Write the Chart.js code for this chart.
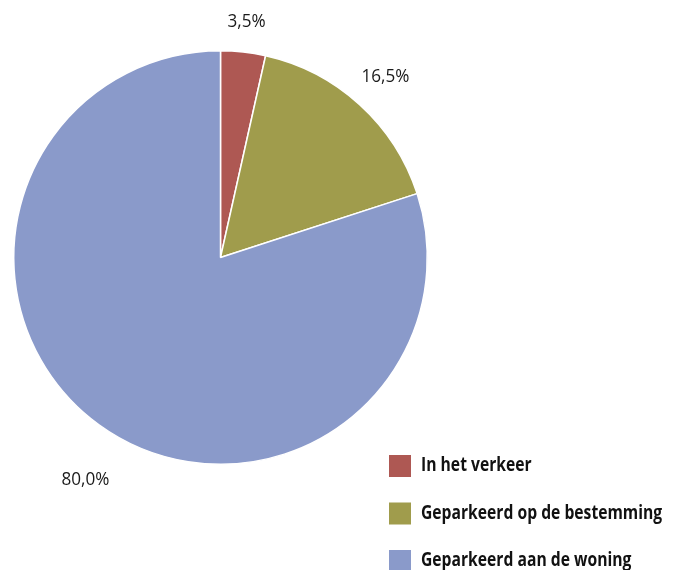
<!DOCTYPE html>
<html>
<head>
<meta charset="utf-8">
<script src="https://cdn.jsdelivr.net/npm/chart.js@4/dist/chart.umd.min.js"></script>
<style>
  html, body { margin: 0; padding: 0; background: #fff; }
  #wrap { position: relative; width: 675px; height: 570px; }
  canvas { display: block; }
</style>
</head>
<body>
<div id="wrap"><canvas id="c" width="675" height="570"></canvas></div>
<script>
// Share of parked / driving time
const categories = ['In het verkeer', 'Geparkeerd op de bestemming', 'Geparkeerd aan de woning'];
const shares = [3.5, 16.5, 80.0];
const valueLabels = ['3,5%', '16,5%', '80,0%'];
const sliceColors = ['#AE5853', '#A09C4C', '#8A9ACA'];

// label placement around the pie: distance of the text centre from the pie centre, and a small angular nudge (degrees)
const labelRadius = [237, 245, 260];
const labelNudge = [0, 0, -4.7];

// condensed look: draw text horizontally squeezed
const VALUE_FONT = '19px "Open Sans", sans-serif';
const VALUE_SQUEEZE = 0.9;
const LEGEND_FONT = 'bold 19px "Open Sans", sans-serif';
const LEGEND_SQUEEZE = 0.825;

function squeezedText(ctx, text, x, y, squeeze, align) {
  ctx.save();
  ctx.translate(x, y);
  ctx.scale(squeeze, 1);
  ctx.textAlign = align;
  ctx.fillText(text, 0, 0);
  ctx.restore();
}

const valueLabelPlugin = {
  id: 'valueLabels',
  afterDatasetsDraw(chart) {
    const ctx = chart.ctx;
    const meta = chart.getDatasetMeta(0);
    ctx.save();
    ctx.font = VALUE_FONT;
    ctx.fillStyle = '#1a1a1a';
    ctx.textBaseline = 'middle';
    meta.data.forEach((arc, i) => {
      const p = arc.getProps(['x', 'y', 'startAngle', 'endAngle'], true);
      const mid = (p.startAngle + p.endAngle) / 2 + labelNudge[i] * Math.PI / 180;
      const r = labelRadius[i];
      squeezedText(ctx, valueLabels[i], p.x + Math.cos(mid) * r, p.y + Math.sin(mid) * r, VALUE_SQUEEZE, 'center');
    });
    ctx.restore();
  }
};

const legendPlugin = {
  id: 'sideLegend',
  afterDraw(chart) {
    const ctx = chart.ctx;
    ctx.save();
    ctx.font = LEGEND_FONT;
    ctx.textBaseline = 'middle';
    categories.forEach((name, i) => {
      const y = 455 + i * 47.5;
      ctx.fillStyle = sliceColors[i];
      ctx.fillRect(389, y, 22, 22);
      ctx.fillStyle = '#111';
      squeezedText(ctx, name, 421, y + 11, LEGEND_SQUEEZE, 'left');
    });
    ctx.restore();
  }
};

new Chart(document.getElementById('c'), {
  type: 'pie',
  data: {
    labels: categories,
    datasets: [{
      data: shares,
      backgroundColor: sliceColors,
      borderColor: '#ffffff',
      borderWidth: 1.5
    }]
  },
  options: {
    responsive: false,
    animation: false,
    layout: { padding: { left: 13, top: 50, right: 247, bottom: 105 } },
    plugins: {
      legend: { display: false },
      tooltip: { enabled: false }
    }
  },
  plugins: [valueLabelPlugin, legendPlugin]
});
</script>
</body>
</html>
